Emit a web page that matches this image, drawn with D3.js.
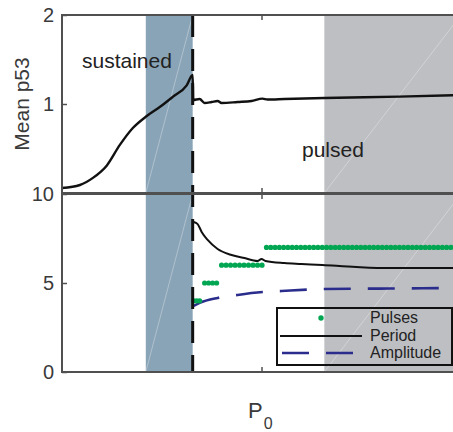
<!DOCTYPE html>
<html>
<head>
<meta charset="utf-8">
<script src="https://cdn.jsdelivr.net/npm/d3@7"></script>
<style>
  body { margin: 0; background: #fff; }
  svg text { font-family: "Liberation Sans", Arial, sans-serif; }
</style>
</head>
<body>
<div id="chart"></div>
<script>
// values, x in P0 units (axis tick at 1)
var xTicks = [1];
var topTicks = [0, 1, 2];
var topTickLabels = ["", "1", "2"];   // the 0 sits under the "10" of the lower panel
var bottomTicks = [0, 5, 10];

var sustainedBand = [0.42, 0.655];
var pulsedBand = [1.315, 2];
var boundaryX = 0.655;

var meanX = [0, 0.09, 0.155, 0.225, 0.29, 0.355, 0.425, 0.49, 0.555, 0.625, 0.655,
             0.6575, 0.69, 0.715, 0.75, 0.78, 0.80, 0.88, 0.95, 1.005, 1.03, 1.115, 1.315, 1.69, 1.99];
var meanY = [0.056, 0.09, 0.17, 0.31, 0.54, 0.73, 0.865, 0.966, 1.08, 1.21, 1.326,
             1.045, 1.056, 1.011, 1.022, 1.034, 1.011, 1.022, 1.034, 1.06, 1.05, 1.056, 1.068, 1.083, 1.10];

var periodX = [0.66, 0.68, 0.70, 0.73, 0.78, 0.85, 0.915, 0.98, 1.0, 1.02, 1.115, 1.2, 1.305, 1.475, 1.64, 1.99];
var periodY = [8.43, 8.31, 7.87, 7.42, 6.91, 6.57, 6.40, 6.24, 6.35, 6.24, 6.12, 6.07, 6.01, 5.90, 5.84, 5.84];

var ampX = [0.66, 0.69, 0.78, 0.88, 1.005, 1.10, 1.315, 1.64, 1.99];
var ampY = [3.71, 3.88, 4.16, 4.33, 4.49, 4.55, 4.66, 4.69, 4.72];

// number of pulses: one list of sample positions per level
var pulseLevels = [4, 5, 6, 7];
var pulses4 = [0.66, 0.675, 0.69];
var pulses5 = [0.715, 0.735, 0.755, 0.775];
var pulses6 = [0.80, 0.8225, 0.845, 0.8675, 0.89, 0.9125, 0.935, 0.9575, 0.98, 1.0025];
var pulses7 = [1.025, 1.0465, 1.068, 1.0895, 1.111, 1.1325, 1.154, 1.1755, 1.197, 1.2185,
               1.240, 1.2615, 1.283, 1.3045, 1.326, 1.3475, 1.369, 1.3905, 1.412, 1.4335,
               1.455, 1.4765, 1.498, 1.5195, 1.541, 1.5625, 1.584, 1.6055, 1.627, 1.6485,
               1.670, 1.6915, 1.713, 1.7345, 1.756, 1.7775, 1.799, 1.8205, 1.842, 1.8635,
               1.885, 1.9065, 1.928, 1.9495, 1.971, 1.9925];
var pulseSets = [pulses4, pulses5, pulses6, pulses7];

var legendLabels = ["Pulses", "Period", "Amplitude"];

var width = 453, height = 432,
    left = 62, right = 461,
    topPanel = {y0: 15, y1: 193},
    botPanel = {y0: 194, y1: 372},
    axisColor = "#505050",
    textColor = "#3a3a3a",
    blue = "#8aa4b7",
    gray = "#bebfc3",
    green = "#00a651",
    navy = "#2b2d8c";

var svg = d3.select("#chart").append("svg").attr("width", width).attr("height", height);

var x = d3.scaleLinear().domain([0, 2]).range([left, right]);
var yTop = d3.scaleLinear().domain([0, 2]).range([topPanel.y1, topPanel.y0]);
var yBot = d3.scaleLinear().domain([0, 10]).range([botPanel.y1, botPanel.y0]);

function zipXY(xs, ys) { return xs.map(function(v, i) { return [v, ys[i]]; }); }

// shaded regions + faint diagonal seams in each patch
[topPanel, botPanel].forEach(function(pan) {
    [[sustainedBand, blue], [pulsedBand, gray]].forEach(function(b) {
        var x0 = x(b[0][0]), x1 = x(b[0][1]);
        svg.append("rect")
            .attr("x", x0).attr("y", pan.y0)
            .attr("width", x1 - x0).attr("height", pan.y1 - pan.y0)
            .attr("fill", b[1]);
        svg.append("line")
            .attr("x1", x0).attr("y1", pan.y1).attr("x2", x1).attr("y2", pan.y0)
            .attr("stroke", "#fff").attr("stroke-opacity", 0.45).attr("stroke-width", 0.7);
    });
});

// region labels
svg.append("text").attr("x", 82).attr("y", 68).attr("font-size", 21)
    .attr("fill", "#222").text("sustained");
svg.append("text").attr("x", 302).attr("y", 157).attr("font-size", 21)
    .attr("fill", "#222").text("pulsed");

// top panel: mean p53
var meanLine = d3.line()
    .x(function(d) { return x(d[0]); })
    .y(function(d) { return yTop(d[1]); })
    .curve(d3.curveMonotoneX);

svg.append("path")
    .datum(zipXY(meanX, meanY))
    .attr("fill", "none").attr("stroke", "#111").attr("stroke-width", 2.4)
    .attr("stroke-linejoin", "round")
    .attr("d", meanLine);

// bottom panel
var botLine = d3.line()
    .x(function(d) { return x(d[0]); })
    .y(function(d) { return yBot(d[1]); })
    .curve(d3.curveMonotoneX);

svg.append("path")
    .datum(zipXY(ampX, ampY))
    .attr("fill", "none").attr("stroke", navy).attr("stroke-width", 2.6)
    .attr("stroke-dasharray", "27,17")
    .attr("d", botLine);

svg.append("path")
    .datum(zipXY(periodX, periodY))
    .attr("fill", "none").attr("stroke", "#111").attr("stroke-width", 2)
    .attr("d", botLine);

var pulsePts = [];
pulseSets.forEach(function(xs, i) {
    xs.forEach(function(v) { pulsePts.push([v, pulseLevels[i]]); });
});
svg.append("g").selectAll("circle")
    .data(pulsePts)
    .enter().append("circle")
    .attr("cx", function(d) { return x(d[0]); })
    .attr("cy", function(d) { return yBot(d[1]); })
    .attr("r", 2.6)
    .attr("fill", green);

// boundary dashed line across both panels
svg.append("line")
    .attr("x1", x(boundaryX)).attr("x2", x(boundaryX))
    .attr("y1", topPanel.y0).attr("y2", botPanel.y1)
    .attr("stroke", "#111").attr("stroke-width", 3)
    .attr("stroke-dasharray", "22,12");

// axes (inward ticks, MATLAB style)
function frame(pan, yScale, ticks, labels) {
    svg.append("g")
        .attr("transform", "translate(" + left + ",0)")
        .call(d3.axisRight(yScale).tickValues(ticks).tickSize(5).tickFormat(""))
        .call(function(g) { g.select(".domain").remove(); });
    svg.append("g")
        .attr("transform", "translate(0," + pan.y1 + ")")
        .call(d3.axisTop(x).tickValues(xTicks).tickSize(5).tickFormat(""))
        .call(function(g) { g.select(".domain").remove(); });
    svg.append("g")
        .attr("transform", "translate(0," + pan.y0 + ")")
        .call(d3.axisBottom(x).tickValues(xTicks).tickSize(5).tickFormat(""))
        .call(function(g) { g.select(".domain").remove(); });
    svg.selectAll(".tick line").attr("stroke", axisColor).attr("stroke-width", 1.5);

    svg.append("g").selectAll("text")
        .data(ticks.filter(function(d, i) { return labels[i] !== ""; }))
        .enter().append("text")
        .attr("x", 54).attr("y", function(d) { return yScale(d); })
        .attr("dy", "0.36em")
        .attr("text-anchor", "end").attr("font-size", 20)
        .attr("fill", textColor)
        .text(function(d) { return labels[ticks.indexOf(d)]; });

    svg.append("path")
        .attr("d", "M" + right + "," + pan.y0 + "H" + left + "V" + pan.y1 + "H" + right)
        .attr("fill", "none").attr("stroke", axisColor).attr("stroke-width", 2);
}
frame(topPanel, yTop, topTicks, topTickLabels);
frame(botPanel, yBot, bottomTicks, bottomTicks.map(String));

// labels
svg.append("text")
    .attr("transform", "translate(29," + ((topPanel.y0 + topPanel.y1) / 2) + ") rotate(-90)")
    .attr("text-anchor", "middle").attr("font-size", 21).attr("fill", textColor)
    .text("Mean p53");

var xl = svg.append("text").attr("x", 248).attr("y", 418).attr("font-size", 22).attr("fill", textColor);
xl.append("tspan").text("P");
xl.append("tspan").attr("font-size", 16).attr("dy", 11).attr("dx", 1).text("0");

// legend (transparent box)
var lg = svg.append("g");
lg.append("rect").attr("x", 277).attr("y", 308).attr("width", 175).attr("height", 57)
    .attr("fill", "none").attr("stroke", "#111").attr("stroke-width", 2);
lg.append("circle").attr("cx", 321).attr("cy", 318).attr("r", 2.7).attr("fill", green);
lg.append("line").attr("x1", 280).attr("x2", 362).attr("y1", 336).attr("y2", 336)
    .attr("stroke", "#111").attr("stroke-width", 2);
lg.append("line").attr("x1", 282).attr("x2", 354).attr("y1", 353).attr("y2", 353)
    .attr("stroke", navy).attr("stroke-width", 2.6).attr("stroke-dasharray", "27,17");
lg.selectAll(".lab").data(legendLabels).enter().append("text")
    .attr("x", 370).attr("y", function(d, i) { return 323 + i * 17.5; })
    .attr("font-size", 16).attr("fill", "#222")
    .text(function(d) { return d; });
</script>
</body>
</html>
